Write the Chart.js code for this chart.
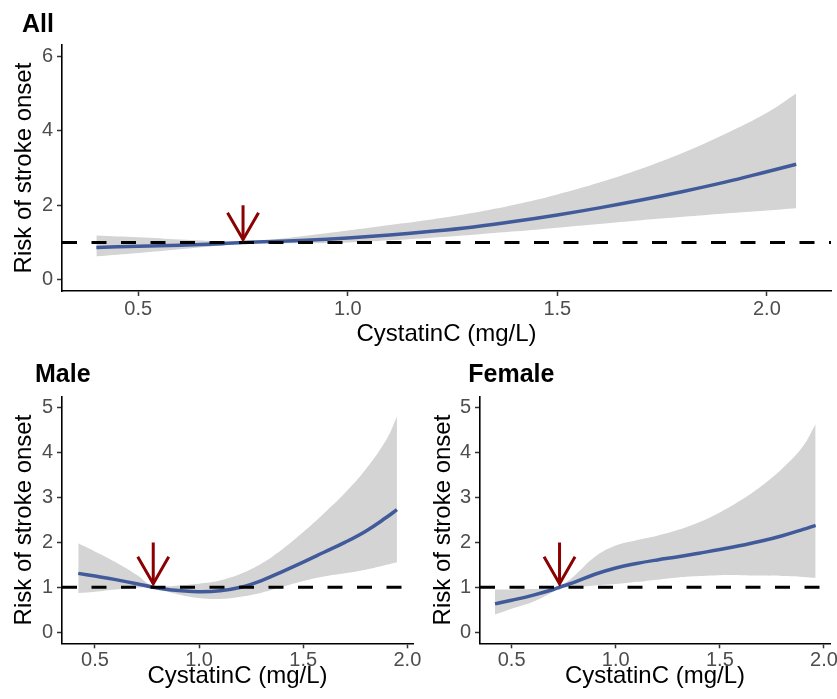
<!DOCTYPE html>
<html>
<head>
<meta charset="utf-8">
<script src="https://cdn.jsdelivr.net/npm/chart.js@4.4.1/dist/chart.umd.min.js"></script>
<style>
html,body{margin:0;padding:0;background:#fff;}
body{width:837px;height:699px;position:relative;overflow:hidden;}
canvas{position:absolute;display:block;}
</style>
</head>
<body>
<canvas id="cAll" width="837" height="350" style="left:0;top:0;"></canvas>
<canvas id="cMale" width="430" height="349" style="left:0;top:350px;"></canvas>
<canvas id="cFemale" width="412" height="349" style="left:425px;top:350px;"></canvas>
<script>
// ---------------- data ----------------
const panelTitles = ['All', 'Male', 'Female'];
const xAxisTitle = 'CystatinC (mg/L)';
const yAxisTitle = 'Risk of stroke onset';

const allX     = [0.40, 0.50, 0.60, 0.70, 0.75, 0.80, 0.90, 1.00, 1.10, 1.20, 1.30, 1.40, 1.50, 1.60, 1.70, 1.80, 1.90, 2.00, 2.07];
const allFit   = [0.87, 0.90, 0.93, 0.97, 1.00, 1.02, 1.06, 1.12, 1.20, 1.30, 1.42, 1.57, 1.74, 1.93, 2.14, 2.37, 2.62, 2.90, 3.10];
const allUpper = [1.19, 1.14, 1.08, 1.03, 1.01, 1.05, 1.18, 1.32, 1.47, 1.62, 1.80, 2.02, 2.29, 2.61, 2.98, 3.41, 3.91, 4.48, 5.00];
const allLower = [0.63, 0.72, 0.82, 0.93, 0.99, 0.99, 0.98, 1.00, 1.06, 1.13, 1.21, 1.30, 1.40, 1.50, 1.60, 1.69, 1.78, 1.86, 1.92];

const maleX     = [0.42, 0.50, 0.60, 0.70, 0.78, 0.85, 0.90, 1.00, 1.10, 1.20, 1.30, 1.40, 1.50, 1.60, 1.70, 1.80, 1.90, 1.95];
const maleFit   = [1.31, 1.25, 1.17, 1.08, 1.00, 0.95, 0.93, 0.90, 0.92, 1.00, 1.15, 1.35, 1.56, 1.78, 2.00, 2.25, 2.56, 2.73];
const maleUpper = [1.98, 1.80, 1.56, 1.28, 1.02, 1.02, 1.04, 1.08, 1.15, 1.30, 1.53, 1.85, 2.23, 2.65, 3.10, 3.63, 4.30, 4.81];
const maleLower = [0.87, 0.90, 0.95, 0.99, 0.98, 0.90, 0.84, 0.76, 0.74, 0.79, 0.88, 1.01, 1.14, 1.24, 1.31, 1.39, 1.50, 1.56];

const femaleX     = [0.42, 0.50, 0.60, 0.70, 0.73, 0.80, 0.90, 1.00, 1.10, 1.20, 1.30, 1.40, 1.50, 1.60, 1.70, 1.80, 1.90, 1.96];
const femaleFit   = [0.63, 0.71, 0.82, 0.95, 1.00, 1.11, 1.29, 1.43, 1.53, 1.61, 1.68, 1.76, 1.84, 1.93, 2.03, 2.15, 2.29, 2.38];
const femaleUpper = [0.95, 0.95, 0.96, 0.98, 1.01, 1.25, 1.68, 1.93, 2.05, 2.15, 2.28, 2.45, 2.67, 2.94, 3.26, 3.65, 4.15, 4.64];
const femaleLower = [0.39, 0.52, 0.67, 0.90, 0.99, 1.00, 1.04, 1.07, 1.12, 1.17, 1.22, 1.25, 1.27, 1.27, 1.26, 1.25, 1.23, 1.21];

const xTicks      = [0.5, 1.0, 1.5, 2.0];
const yTicksAll   = [0, 2, 4, 6];
const yTicksSex   = [0, 1, 2, 3, 4, 5];
const xLimitsAll  = [0.318, 2.153];
const xLimitsMale = [0.342, 2.027];
const xLimitsFem  = [0.348, 2.029];
const yLimitsAll  = [-0.30, 6.30];
const yLimitsSex  = [-0.25, 5.25];

const refLine   = 1;
const arrowXs   = [0.75, 0.78, 0.73];
const arrowFrom = 2.0;
const arrowTo   = 1.08;

// ---------------- styling ----------------
const FONT = "'Liberation Sans', Arial, Helvetica, sans-serif";
const BLUE = '#415A9A';
const RIBBON = '#D4D4D4';
const DARKRED = '#8B0000';
const TENSION = 0.4;

const overlay = {
  id: 'overlay',
  afterLayout(chart, args, opts) {
    if (chart.titleBlock) {
      const w = chart.titleBlock.right - chart.titleBlock.left;
      chart.titleBlock.left = opts.titleX;
      chart.titleBlock.right = opts.titleX + w;
    }
  },
  afterDatasetsDraw(chart, args, opts) {
    const {ctx, chartArea: a, scales: {x, y}} = chart;
    ctx.save();
    ctx.beginPath();
    ctx.rect(a.left, a.top, a.right - a.left, a.bottom - a.top);
    ctx.clip();
    // dashed reference line
    const yp = y.getPixelForValue(refLine);
    ctx.strokeStyle = '#000';
    ctx.lineWidth = 3;
    ctx.setLineDash([15, 14.5]);
    ctx.beginPath();
    ctx.moveTo(a.left, yp);
    ctx.lineTo(a.right, yp);
    ctx.stroke();
    ctx.setLineDash([]);
    // arrow
    const ax = x.getPixelForValue(opts.arrowX);
    const y0 = y.getPixelForValue(arrowFrom);
    const y1 = y.getPixelForValue(arrowTo);
    ctx.strokeStyle = DARKRED;
    ctx.lineWidth = 3;
    ctx.lineCap = 'butt';
    ctx.lineJoin = 'miter';
    ctx.beginPath();
    ctx.moveTo(ax, y0);
    ctx.lineTo(ax, y1);
    ctx.stroke();
    const L = 31, ang = Math.PI / 6;
    ctx.beginPath();
    ctx.moveTo(ax - L * Math.sin(ang), y1 - L * Math.cos(ang));
    ctx.lineTo(ax, y1);
    ctx.lineTo(ax + L * Math.sin(ang), y1 - L * Math.cos(ang));
    ctx.stroke();
    ctx.restore();
  }
};

function pts(xs, ys) { return xs.map((v, i) => ({x: v, y: ys[i]})); }

function makeChart(id, p) {
  const ctx = document.getElementById(id);
  return new Chart(ctx, {
    type: 'line',
    data: {
      datasets: [
        {data: pts(p.xs, p.upper), borderWidth: 0, borderColor: 'rgba(0,0,0,0)', pointRadius: 0,
         fill: '+1', backgroundColor: RIBBON, tension: TENSION, order: 2},
        {data: pts(p.xs, p.lower), borderWidth: 0, borderColor: 'rgba(0,0,0,0)', pointRadius: 0,
         fill: false, tension: TENSION, order: 1},
        {data: pts(p.xs, p.fit), borderWidth: 3.5, borderColor: BLUE, pointRadius: 0,
         fill: false, tension: TENSION, order: 0}
      ]
    },
    options: {
      responsive: false,
      animation: false,
      events: [],
      layout: {padding: p.pad},
      plugins: {
        legend: {display: false},
        tooltip: {enabled: false},
        title: {
          display: true, text: p.title, align: 'start', color: '#000',
          font: {family: FONT, size: 25, weight: 'bold', lineHeight: 1},
          padding: {top: p.titlePad[0], bottom: p.titlePad[1]}
        },
        overlay: {arrowX: p.arrowX, titleX: p.titleX}
      },
      scales: {
        x: {
          type: 'linear', min: p.xLim[0], max: p.xLim[1],
          afterBuildTicks: s => { s.ticks = xTicks.map(v => ({value: v})); },
          afterFit: s => { s.height = p.xH; s.paddingLeft = 0; s.paddingRight = 0; },
          ticks: {callback: v => Number(v).toFixed(1), color: '#4D4D4D', autoSkip: false, maxRotation: 0,
                  font: {family: FONT, size: 20}, padding: p.xTickPad},
          grid: {drawOnChartArea: false, drawTicks: true, tickLength: 5, tickColor: '#333', tickWidth: 1.5},
          border: {display: true, color: '#000', width: 1.6},
          title: {display: true, text: xAxisTitle, color: '#000',
                  font: {family: FONT, size: 24, lineHeight: 1}, padding: {top: 0, bottom: p.xTitlePad}}
        },
        y: {
          type: 'linear', min: p.yLim[0], max: p.yLim[1],
          afterBuildTicks: s => { s.ticks = p.yTicks.map(v => ({value: v})); },
          afterFit: s => { s.width = p.yW; s.paddingTop = 0; s.paddingBottom = 0; },
          ticks: {callback: v => String(v), color: '#4D4D4D', autoSkip: false,
                  font: {family: FONT, size: 20}, padding: 4},
          grid: {drawOnChartArea: false, drawTicks: true, tickLength: 5, tickColor: '#333', tickWidth: 1.5},
          border: {display: true, color: '#000', width: 1.6},
          title: {display: true, text: yAxisTitle, color: '#000',
                  font: {family: FONT, size: 24, lineHeight: 1}, padding: {top: p.yTitlePad, bottom: 0}}
        }
      }
    },
    plugins: [overlay]
  });
}

makeChart('cAll', {
  title: panelTitles[0], xs: allX, fit: allFit, upper: allUpper, lower: allLower,
  xLim: xLimitsAll, yLim: yLimitsAll, yTicks: yTicksAll, arrowX: arrowXs[0],
  pad: {left: 0, right: 6, top: 0, bottom: 9}, titleX: 22,
  titlePad: [12.5, 7.5], yW: 62, xH: 50, xTickPad: 1, xTitlePad: -5.7, yTitlePad: 12.7
});
makeChart('cMale', {
  title: panelTitles[1], xs: maleX, fit: maleFit, upper: maleUpper, lower: maleLower,
  xLim: xLimitsMale, yLim: yLimitsSex, yTicks: yTicksSex, arrowX: arrowXs[1],
  pad: {left: 0, right: 17, top: 0, bottom: 10.7}, titleX: 35,
  titlePad: [12.5, 9.2], yW: 62, xH: 45, xTickPad: 0, xTitlePad: 0.3, yTitlePad: 12.7
});
makeChart('cFemale', {
  title: panelTitles[2], xs: femaleX, fit: femaleFit, upper: femaleUpper, lower: femaleLower,
  xLim: xLimitsFem, yLim: yLimitsSex, yTicks: yTicksSex, arrowX: arrowXs[2],
  pad: {left: 0, right: 7, top: 0, bottom: 10.7}, titleX: 43.3,
  titlePad: [12.5, 9.2], yW: 55, xH: 45, xTickPad: 0, xTitlePad: 0.3, yTitlePad: 6.4
});
</script>
</body>
</html>
